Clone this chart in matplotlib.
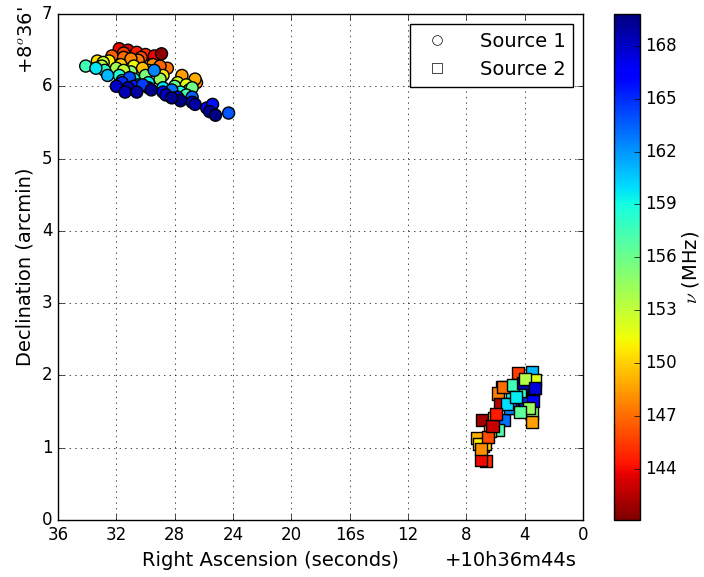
import matplotlib
matplotlib.use("Agg")
import matplotlib.pyplot as plt
from matplotlib.lines import Line2D
import numpy as np

plt.style.use('classic')

# Source 1 (circles): RA seconds offset, Dec arcmin offset, frequency MHz
ra1 = [31.8, 31.2, 30.6, 30.0, 29.4, 28.9, 31.5, 30.3,
       32.3, 31.5, 30.5, 29.5, 28.5, 27.5, 26.5, 26.6, 31.0, 29.0,
       33.3, 32.5, 31.7, 30.8, 29.8, 28.8, 27.8, 27.2, 32.9, 30.2,
       33.0, 32.0, 31.0, 30.0, 29.0, 28.0, 27.0, 26.8, 31.5,
       34.1, 32.8, 31.8, 30.8, 29.8, 28.8, 27.6, 27.2, 33.4,
       32.6, 31.6, 30.5, 29.4, 28.2, 26.8, 24.3, 31.1,
       31.6, 30.8, 29.8, 28.8, 27.8, 26.8, 25.8, 25.4, 30.2,
       32.0, 31.2, 30.6, 29.6, 28.6, 27.6, 26.6, 25.6, 25.2, 31.4, 28.2]
dec1 = [6.52, 6.50, 6.47, 6.44, 6.42, 6.45, 6.46, 6.40,
        6.42, 6.40, 6.36, 6.30, 6.25, 6.15, 6.05, 6.10, 6.38, 6.28,
        6.35, 6.35, 6.30, 6.28, 6.22, 6.15, 6.05, 6.02, 6.33, 6.25,
        6.28, 6.25, 6.20, 6.15, 6.10, 6.00, 5.95, 5.98, 6.22,
        6.28, 6.22, 6.15, 6.10, 6.05, 5.98, 5.92, 5.88, 6.25,
        6.15, 6.08, 6.02, 6.22, 5.95, 5.85, 5.63, 6.12,
        6.05, 6.00, 5.98, 5.92, 5.85, 5.78, 5.70, 5.75, 6.02,
        6.00, 5.98, 5.92, 5.95, 5.88, 5.80, 5.75, 5.65, 5.60, 5.92, 5.84]
f1 = [144.0, 143.5, 144.5, 145.0, 143.8, 141.5, 145.5, 146.0,
      146.5, 147.0, 147.5, 148.0, 147.2, 148.5, 148.0, 149.0, 147.8, 146.8,
      150.5, 151.0, 150.0, 151.5, 152.0, 150.8, 152.5, 151.8, 152.8, 149.5,
      153.5, 154.0, 155.0, 155.5, 154.5, 156.0, 156.5, 155.8, 153.0,
      157.5, 158.0, 158.5, 159.0, 159.5, 160.0, 158.8, 157.2, 159.8,
      161.0, 161.5, 162.0, 162.5, 163.0, 163.5, 163.8, 164.0,
      165.0, 165.5, 166.0, 166.5, 167.0, 167.5, 166.8, 165.8, 164.5,
      168.0, 168.5, 169.0, 169.5, 168.2, 169.8, 168.8, 169.2, 169.6, 168.4, 169.4]

# Source 2 (squares)
ra2 = [6.65, 6.99, 7.29, 6.84, 6.70, 6.95, 6.08, 5.40, 5.85, 6.40,
       5.58, 5.81, 4.89, 4.89, 5.69, 3.52, 4.44, 3.41, 3.86, 3.98,
       3.41, 3.52, 3.52, 4.32, 5.00, 3.29, 5.46, 4.78, 4.10, 7.10,
       6.50, 5.20, 4.60, 4.00, 3.70, 6.20, 5.95, 4.30, 3.30, 7.00]
dec2 = [0.81, 0.83, 1.13, 1.02, 1.05, 1.39, 1.41, 1.39, 1.24, 1.23,
        1.84, 1.75, 1.77, 1.55, 1.61, 2.05, 2.03, 1.78, 1.87, 1.66,
        1.64, 1.48, 1.36, 1.78, 1.55, 1.94, 1.84, 1.87, 1.89, 1.05,
        1.15, 1.60, 1.70, 1.95, 1.55, 1.30, 1.47, 1.50, 1.82, 0.98]
f2 = [145.0, 144.0, 149.0, 147.0, 150.0, 142.0, 150.5, 163.0, 157.0, 150.0,
      148.0, 147.5, 159.0, 163.5, 142.5, 161.0, 145.5, 169.5, 166.0, 165.0,
      166.5, 155.0, 148.5, 158.0, 162.5, 152.0, 147.0, 157.5, 168.5, 151.0,
      146.0, 160.0, 159.5, 153.5, 154.5, 143.0, 144.5, 156.5, 167.5, 148.0]

xticks = [36, 32, 28, 24, 20, 16, 12, 8, 4, 0]
xticklabels = ['36', '32', '28', '24', '20', '16s', '12', '8', '4', '0']
cticks = [144, 147, 150, 153, 156, 159, 162, 165, 168]

fig = plt.figure(figsize=(7.04, 5.77), dpi=100)
fig.patch.set_facecolor('white')
ax = fig.add_axes([0.0824, 0.0988, 0.7456, 0.8769])
cax = fig.add_axes([0.872, 0.0988, 0.037, 0.8769])

vmin, vmax = 141.1, 169.8
sc = ax.scatter(ra1, dec1, c=f1, cmap='jet_r', vmin=vmin, vmax=vmax, marker='o',
                s=75, edgecolors='black', linewidths=1, zorder=3)
ax.scatter(ra2, dec2, c=f2, cmap='jet_r', vmin=vmin, vmax=vmax, marker='s',
           s=75, edgecolors='black', linewidths=1, zorder=3)

ax.set_xlim(36, 0)
ax.set_ylim(0, 7)
ax.set_xticks(xticks)
ax.set_xticklabels(xticklabels)
ax.set_yticks(range(0, 8))
ax.grid(True, linestyle=':', color='black')
ax.tick_params(labelsize=12)
ax.set_xlabel('Right Ascension (seconds)', fontsize=14)
ax.xaxis.set_label_coords(0.404, -0.062)
ax.set_ylabel('Declination (arcmin)', fontsize=14)
fig.text(0.725, 0.029, '+10h36m44s', fontsize=14, ha='center', va='center')
fig.text(0.037, 0.93, "+8$^o$36'", fontsize=14, rotation=90, ha='center', va='center')

handles = [Line2D([], [], marker='o', linestyle='none', markerfacecolor='white',
                  markeredgecolor='black', markersize=7),
           Line2D([], [], marker='s', linestyle='none', markerfacecolor='white',
                  markeredgecolor='black', markersize=7)]
ax.legend(handles, ['Source 1', 'Source 2'], loc='upper right', numpoints=1,
          fontsize=14, borderpad=0.4, handletextpad=1.2)

cb = fig.colorbar(sc, cax=cax, ticks=cticks)
cb.ax.tick_params(labelsize=12)
cb.set_label(r'$\nu$ (MHz)', fontsize=14, labelpad=2)

fig.savefig('out.png', dpi=100, facecolor='white')
